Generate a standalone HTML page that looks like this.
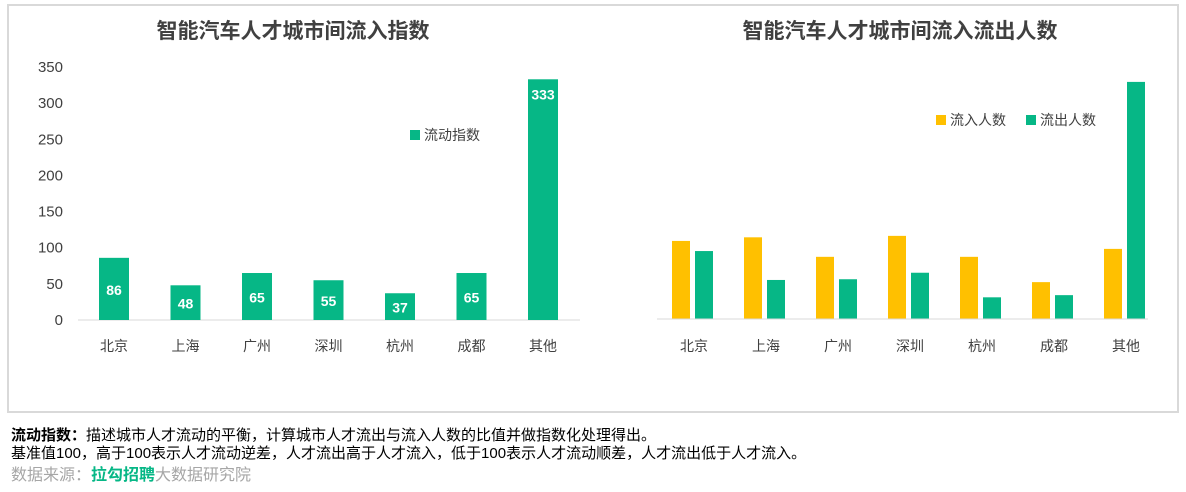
<!DOCTYPE html>
<html><head><meta charset="utf-8">
<style>
body{margin:0;width:1186px;height:492px;background:#fff;font-family:"Liberation Sans","Noto Sans CJK SC",sans-serif;overflow:hidden;position:relative}
.frame{position:absolute;left:7px;top:4px;width:1172px;height:409px;border:2px solid #d9d9d9;box-sizing:border-box}
.note{position:absolute;left:11px;font-size:15px;color:#000;white-space:nowrap;line-height:17px}
</style></head><body>
<div class="frame"></div>
<svg width="1186" height="420" style="position:absolute;left:0;top:0" font-family="Liberation Sans, Noto Sans CJK SC, sans-serif">
<text x="293" y="38" text-anchor="middle" font-size="21" font-weight="bold" fill="#404040">智能汽车人才城市间流入指数</text>
<text x="900" y="38" text-anchor="middle" font-size="21" font-weight="bold" fill="#404040">智能汽车人才城市间流入流出人数</text>
<g id="left"></g><g id="right"></g>
<rect x="410" y="130" width="10" height="10" fill="#06b786"/>
<text x="424" y="140" font-size="14" fill="#404040">流动指数</text>
<rect x="936" y="115" width="10" height="10" fill="#ffc000"/>
<text x="950" y="125" font-size="14" fill="#404040">流入人数</text>
<rect x="1026" y="115" width="10" height="10" fill="#06b786"/>
<text x="1040" y="125" font-size="14" fill="#404040">流出人数</text>
</svg>
<div class="note" style="top:427px"><b>流动指数：</b>描述城市人才流动的平衡，计算城市人才流出与流入人数的比值并做指数化处理得出。</div>
<div class="note" style="top:445px">基准值100，高于100表示人才流动逆差，人才流出高于人才流入，低于100表示人才流动顺差，人才流出低于人才流入。</div>
<div class="note" style="top:467px;font-size:16px;color:#a6a6a6">数据来源：<b style="color:#06b786">拉勾招聘</b>大数据研究院</div>
<script>
const categories=["北京","上海","广州","深圳","杭州","成都","其他"];
const indexValues=[86,48,65,55,37,65,333];
const inflowValues=[108,113,86,115,86,51,97];
const outflowValues=[94,54,55,64,30,33,328];
const yTicks=[0,50,100,150,200,250,300,350];
const NS="http://www.w3.org/2000/svg";
function mk(tag,attrs,parent,text){const e=document.createElementNS(NS,tag);for(const k in attrs)e.setAttribute(k,attrs[k]);if(text!==undefined)e.textContent=text;parent.appendChild(e);return e;}
const base=320,scale=253/350;
const yL=v=>base-v*scale;
const xL=i=>114+i*71.5;
const xR=i=>694+i*72;
const L=document.getElementById('left'),R=document.getElementById('right');
yTicks.forEach(t=>{const e=mk('text',{x:63,y:yL(t)+5,'text-anchor':'end','font-size':15,fill:'#404040'},L,t);

});
const ax=mk('line',{x1:78,x2:580,y1:base,y2:base,stroke:'#d9d9d9','stroke-width':1},L);


categories.forEach((c,i)=>{
 const v=indexValues[i];
 const b=mk('rect',{x:xL(i)-15,y:yL(v),width:30,height:v*scale,fill:'#06b786'},L);
 
 
 const lb=mk('text',{x:xL(i),y:(v>100?yL(v)+20:(yL(v)+base)/2+6),'text-anchor':'middle','font-size':14,'font-weight':'bold',fill:'#fff'},L,v);
 
 
 const t=mk('text',{x:xL(i),y:351,'text-anchor':'middle','font-size':14,fill:'#404040'},L,c);
 
 
 const a=inflowValues[i],o=outflowValues[i];
 const by=mk('rect',{x:xR(i)-22,y:yL(a)-1,width:18,height:a*scale,fill:'#ffc000'},R);
 
 
 const bg=mk('rect',{x:xR(i)+1,y:yL(o)-1,width:18,height:o*scale,fill:'#06b786'},R);
 
 
 const t2=mk('text',{x:xR(i),y:351,'text-anchor':'middle','font-size':14,fill:'#404040'},R,c);
 
 
});
const ax2=mk('line',{x1:657,x2:1148,y1:base-1,y2:base-1,stroke:'#d9d9d9','stroke-width':1},R);


</script>
</body></html>
